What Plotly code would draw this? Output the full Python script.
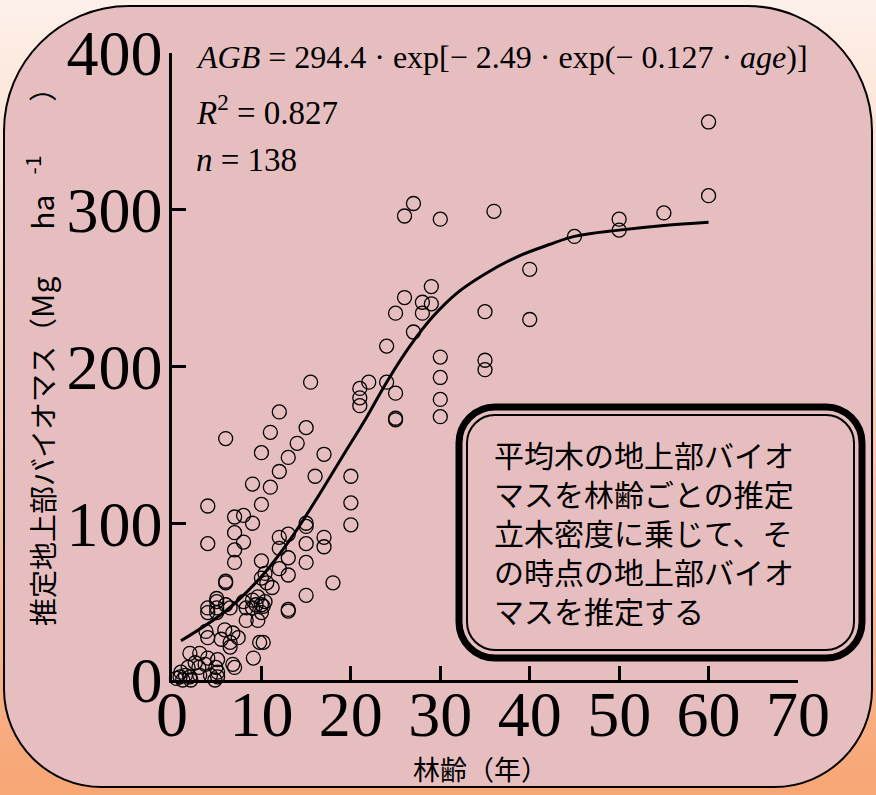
import plotly.graph_objects as go

# ---------------- data ----------------
age = [27, 26, 30, 36, 40, 29, 26, 28, 29, 25, 28, 35, 40, 27, 24, 30, 35, 35, 30, 15.5,
       22, 21, 24, 25, 21, 21, 30, 30, 25, 25, 15, 60, 55, 50, 50, 45, 60,
       12, 6, 11, 14, 10, 13, 17, 12, 16, 20, 9, 11, 20, 4, 10, 7, 8, 9, 20, 15, 15, 7, 8,
       4, 12, 13, 15, 17, 17, 12, 7, 7, 13, 12, 13, 15, 10, 10.4, 10, 6, 6, 18, 10.6, 11.2,
       15, 5, 5, 5, 4, 6, 6.5, 8, 9, 9.4, 8.3, 9, 10.4, 9.6, 10, 10.2, 10, 9.6, 13, 13,
       9.8, 10.2, 4, 5, 8.3, 3.8, 4, 5.9, 6.8, 5.5, 6.5, 7.4, 6.5, 2, 3.1, 4, 5.1, 2.6, 3.7,
       4.9, 9.1, 6.8, 7, 1.8, 1, 0.9, 2, 3.1, 4.3, 5.1, 5.1, 1.2, 2.1, 4.8, 0.5, 1.5, 3]
agb = [304, 296, 294, 299, 262, 251, 244, 241, 240, 234, 234, 235, 230, 222, 213, 206, 204, 198, 193, 190,
       190, 186, 190, 183, 180, 175, 179, 168, 167, 166, 161, 309, 298, 294, 287, 283, 356,
       171, 154, 158, 151, 145, 142, 144, 133, 130, 130, 125, 123, 113, 111, 112, 104, 105, 100, 99, 100, 98, 94, 88,
       87, 91, 93, 87, 91, 85, 84, 83, 75, 78, 71, 67, 75, 76, 68, 65, 63, 62, 62, 62, 59,
       54, 52, 50, 46, 46, 48, 46, 50, 51, 48, 46, 46, 50, 53, 48, 47, 43, 38, 44, 45,
       24, 24, 43, 43, 38, 31, 27, 32, 30, 26, 24, 27, 21, 17, 17, 14, 13, 11, 10,
       8, 14, 10, 8, 8, 5, 2, 2, 3, 3, 5, 2, 0, 0, 0, 1, 3, 8]

curve_age = [1, 6, 10, 13.5, 16, 19, 21.8, 24, 26.6, 29.2, 31.9, 35, 38.6, 42.3, 45, 50, 55, 60]
curve_agb = [25, 44, 66, 92, 114, 142, 168, 190, 213, 232, 247, 259, 270, 278, 283, 287, 290, 292]

x_ticks = [0, 10, 20, 30, 40, 50, 60, 70]
y_ticks = [0, 100, 200, 300, 400]

equation_text = "<i>AGB</i> = 294.4 · exp[− 2.49 · exp(− 0.127 · <i>age</i>)]"
r2_text = "<i>R</i><sup>2</sup> = 0.827"
n_text = "<i>n</i> = 138"
note_text = ("平均木の地上部バイオ<br>マスを林齢ごとの推定<br>立木密度に乗じて、そ"
             "<br>の時点の地上部バイオ<br>マスを推定する")
x_title = "林齢（年）"
NB = "&nbsp;"
y_title = ("推定地上部バイオマス（<span style='font-size:30px'>Mg" + NB * 7 + "ha"
           + NB * 3 + "<sup>-1</sup>" + NB * 8 + "</span>）")

# ---------------- geometry helpers ----------------
W, H = 876, 795
ML, MR, MT, MB = 172, 78, 53, 115
PW = W - ML - MR
PH = H - MT - MB


def to_paper(xp, yp):
    return (xp - ML) / PW, (H - MB - yp) / PH


def rrect_path(x0, y0, x1, y1, rt, rb):
    k = 0.5523

    def P(x, y):
        a, b = to_paper(x, y)
        return f"{a:.5f},{b:.5f}"

    return (f"M {P(x0 + rt, y0)} L {P(x1 - rt, y0)} "
            f"C {P(x1 - rt + k * rt, y0)} {P(x1, y0 + rt - k * rt)} {P(x1, y0 + rt)} "
            f"L {P(x1, y1 - rb)} "
            f"C {P(x1, y1 - rb + k * rb)} {P(x1 - rb + k * rb, y1)} {P(x1 - rb, y1)} "
            f"L {P(x0 + rb, y1)} "
            f"C {P(x0 + rb - k * rb, y1)} {P(x0, y1 - rb + k * rb)} {P(x0, y1 - rb)} "
            f"L {P(x0, y0 + rt)} "
            f"C {P(x0, y0 + rt - k * rt)} {P(x0 + rt - k * rt, y0)} {P(x0 + rt, y0)} Z")


def lerp(c1, c2, t):
    return "rgb({},{},{})".format(*[round(a + (b - a) * t) for a, b in zip(c1, c2)])


shapes = []
# background vertical gradient (cream -> orange)
top_c = (253, 240, 233)
bot_c = (247, 166, 118)
N = 60
for i in range(N):
    ya = i * H / N - 1
    yb = (i + 1) * H / N + 1
    x0p, y1p = to_paper(-2, ya)
    x1p, y0p = to_paper(W + 2, yb)
    shapes.append(dict(type="rect", xref="paper", yref="paper", x0=x0p, x1=x1p,
                       y0=y0p, y1=y1p, line=dict(width=0),
                       fillcolor=lerp(top_c, bot_c, i / (N - 1)), layer="below"))

# pink rounded panel
shapes.append(dict(type="path", xref="paper", yref="paper",
                   path=rrect_path(4, 6, 872, 787, 125, 98),
                   fillcolor="#e7bec0", line=dict(color="black", width=2), layer="below"))

# note box: thick outer + thin inner border
shapes.append(dict(type="path", xref="paper", yref="paper",
                   path=rrect_path(459, 407, 862, 658, 36, 36),
                   fillcolor="rgba(0,0,0,0)", line=dict(color="black", width=7), layer="below"))
shapes.append(dict(type="path", xref="paper", yref="paper",
                   path=rrect_path(467, 415, 854, 650, 28, 28),
                   fillcolor="rgba(0,0,0,0)", line=dict(color="black", width=2), layer="below"))

serif = "Liberation Serif, Times New Roman, serif"
cjk = "Noto Sans CJK JP, Noto Sans, sans-serif"

annotations = []


def ann(text, xp, yp, size, family, xanchor="left", yanchor="middle", angle=0, align="left"):
    a, b = to_paper(xp, yp)
    annotations.append(dict(text=text, x=a, y=b, xref="paper", yref="paper",
                            xanchor=xanchor, yanchor=yanchor, showarrow=False,
                            textangle=angle, align=align,
                            font=dict(size=size, family=family, color="black")))


ann(equation_text, 194, 57, 32, serif)
ann(r2_text, 194, 110, 33, serif)
ann(n_text, 194, 160, 33, serif)
ann(note_text, 492, 532, 30, cjk)
ann(x_title, 480, 768, 27, cjk, xanchor="center")
ann(y_title, 40, 350, 28, cjk, xanchor="center", angle=-90)

fig = go.Figure()
fig.add_trace(go.Scatter(x=age, y=agb, mode="markers", cliponaxis=False,
                         marker=dict(symbol="circle-open", size=14, color="black",
                                     line=dict(width=1.3, color="black")),
                         showlegend=False))
fig.add_trace(go.Scatter(x=curve_age, y=curve_agb, mode="lines", line_shape="spline",
                         line=dict(color="black", width=3), showlegend=False))

axis_common = dict(showline=True, linecolor="black", linewidth=2.5, ticks="inside",
                   ticklen=14, tickwidth=2.5, tickcolor="black", showgrid=False,
                   zeroline=False, tickfont=dict(family=serif, size=64, color="black"))

fig.update_layout(
    width=W, height=H,
    margin=dict(l=ML, r=MR, t=MT, b=MB, pad=0),
    paper_bgcolor="rgb(250,200,170)",
    plot_bgcolor="rgba(0,0,0,0)",
    shapes=shapes,
    annotations=annotations,
    xaxis=dict(range=[0, 70], tickvals=x_ticks, ticktext=[str(v) for v in x_ticks],
               ticklabelstandoff=-24, **axis_common),
    yaxis=dict(range=[0, 400], tickvals=y_ticks, ticktext=[str(v) for v in y_ticks],
               ticklabelstandoff=-6, **axis_common),
)

fig.write_html("out.html", config={"displayModeBar": False},
               post_script="document.body.style.margin='0';document.body.style.overflow='hidden';")
